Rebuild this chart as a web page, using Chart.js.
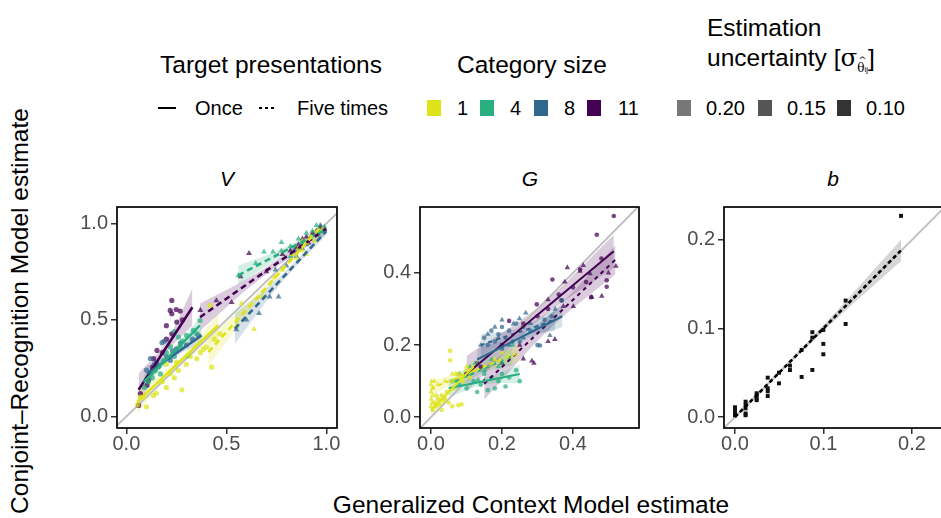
<!DOCTYPE html>
<html>
<head>
<meta charset="utf-8">
<script src="https://cdn.jsdelivr.net/npm/chart.js@4.4.1/dist/chart.umd.min.js"></script>
<style>
  body { margin: 0; width: 941px; height: 518px; overflow: hidden; background: #fff; position: relative;
         font-family: "Liberation Sans", Arial, Helvetica, sans-serif; color: #000; }
  .t { position: absolute; white-space: nowrap; line-height: 1; }
  .ttl { font-size: 24.5px; }
  .lab { font-size: 20px; }
  .key { position: absolute; width: 14px; height: 16px; }
  canvas { position: absolute; }
  .strip { position: absolute; font-size: 21px; font-style: italic; transform: translate(-50%, -50%); line-height: 1; }
</style>
</head>
<body>
<!-- legend -->
<div class="t ttl" style="left:160px;top:53px">Target presentations</div>
<div class="t ttl" style="left:457px;top:53px">Category size</div>
<div class="t ttl" style="left:707px;top:16px">Estimation</div>
<div class="t ttl" style="left:707px;top:46px">uncertainty [<span style="font-family:'DejaVu Serif',serif">σ</span><span style="position:relative;top:6px;font-size:12px;font-family:'DejaVu Serif',serif">θ<span style="position:absolute;left:1px;top:-6px;font-size:10px">^</span><span style="font-size:8px;font-family:'Liberation Sans'">ij</span></span>]</div>

<div style="position:absolute;left:158px;top:107px;width:18px;height:2px;background:#000"></div>
<div class="t lab" style="left:195px;top:98px">Once</div>
<div style="position:absolute;left:259px;top:107px;width:18px;height:2px;background:repeating-linear-gradient(to right,#000 0 3px,transparent 3px 6px)"></div>
<div class="t lab" style="left:297px;top:98px">Five times</div>

<div class="key" style="left:427px;top:100px;background:#dde318"></div>
<div class="t lab" style="left:457px;top:98px">1</div>
<div class="key" style="left:480px;top:100px;background:#29af7f"></div>
<div class="t lab" style="left:510px;top:98px">4</div>
<div class="key" style="left:534px;top:100px;background:#31688e"></div>
<div class="t lab" style="left:564px;top:98px">8</div>
<div class="key" style="left:587px;top:100px;background:#440154"></div>
<div class="t lab" style="left:618px;top:98px">11</div>

<div class="key" style="left:677px;top:100px;background:#777"></div>
<div class="t lab" style="left:706px;top:98px">0.20</div>
<div class="key" style="left:758px;top:100px;background:#555"></div>
<div class="t lab" style="left:787px;top:98px">0.15</div>
<div class="key" style="left:837px;top:100px;background:#333"></div>
<div class="t lab" style="left:866px;top:98px">0.10</div>

<div class="strip" style="left:227px;top:178px">V</div>
<div class="strip" style="left:530px;top:178px">G</div>
<div class="strip" style="left:833px;top:178px">b</div>

<canvas id="cV" width="300" height="268" style="left:40px;top:200px"></canvas>
<canvas id="cG" width="302" height="268" style="left:340px;top:200px"></canvas>
<canvas id="cB" width="305" height="268" style="left:640px;top:200px"></canvas>

<div class="t ttl" style="left:20px;top:311px;transform:translate(-50%,-50%) rotate(-90deg)">Conjoint–Recognition Model estimate</div>
<div class="t ttl" style="left:531px;top:505px;transform:translate(-50%,-50%)">Generalized Context Model estimate</div>

<script>
// category sizes 1, 4, 8, 11
const catColors = ["#dde318", "#29af7f", "#31688e", "#440154"];

// ---- V panel ----
const vTicks = [0, 0.5, 1];
const vOnce1 = [[0.055,0.06],[0.07,0.10],[0.086,0.10],[0.10,0.05],[0.136,0.109],[0.15,0.12],[0.18,0.18],[0.20,0.15],[0.219,0.221],[0.24,0.20],[0.26,0.238],[0.277,0.138],[0.30,0.27],[0.32,0.31],[0.352,0.299],[0.37,0.33],[0.385,0.347],[0.401,0.359],[0.418,0.575],[0.426,0.255],[0.44,0.40],[0.468,0.428],[0.20,0.27],[0.25,0.28]];
const vOnce4 = [[0.09,0.15],[0.11,0.18],[0.13,0.20],[0.144,0.238],[0.16,0.26],[0.186,0.29],[0.20,0.33],[0.22,0.36],[0.24,0.31],[0.26,0.411],[0.28,0.39],[0.30,0.42],[0.31,0.316],[0.335,0.446],[0.35,0.43],[0.368,0.497],[0.24,0.44],[0.17,0.22],[0.27,0.36]];
const vOnce8 = [[0.10,0.24],[0.12,0.30],[0.15,0.28],[0.178,0.382],[0.19,0.39],[0.20,0.31],[0.23,0.34],[0.25,0.35],[0.27,0.38],[0.30,0.37],[0.33,0.40],[0.36,0.42],[0.14,0.27],[0.22,0.29]];
const vOnce11 = [[0.061,0.057],[0.07,0.118],[0.103,0.161],[0.111,0.187],[0.131,0.255],[0.136,0.299],[0.153,0.342],[0.18,0.33],[0.20,0.40],[0.219,0.549],[0.227,0.601],[0.227,0.532],[0.249,0.554],[0.252,0.489],[0.269,0.546],[0.227,0.428],[0.16,0.26],[0.20,0.47],[0.28,0.50]];
const vFive1 = [[0.55,0.47],[0.575,0.585],[0.638,0.452],[0.68,0.62],[0.74,0.72],[0.78,0.76],[0.83,0.84],[0.86,0.87],[0.88,0.86],[0.90,0.90],[0.92,0.93],[0.94,0.91],[0.96,0.95],[0.98,0.97],[0.88,0.91],[0.85,0.82],[0.90,0.84]];
const vFive4 = [[0.56,0.73],[0.647,0.793],[0.688,0.853],[0.733,0.853],[0.775,0.902],[0.775,0.858],[0.82,0.88],[0.86,0.92],[0.90,0.95],[0.93,0.96],[0.96,0.97],[0.99,0.98],[0.88,0.90],[0.95,0.99],[0.82,0.83]];
const vFive8 = [[0.55,0.45],[0.60,0.50],[0.663,0.534],[0.716,0.62],[0.761,0.62],[0.745,0.76],[0.80,0.78],[0.85,0.83],[0.88,0.87],[0.92,0.92],[0.95,0.94],[0.98,0.96],[0.90,0.89],[0.97,0.99],[0.84,0.86]];
const vFive11 = [[0.37,0.55],[0.45,0.60],[0.526,0.591],[0.571,0.725],[0.613,0.845],[0.70,0.75],[0.78,0.84],[0.82,0.86],[0.86,0.89],[0.88,0.92],[0.90,0.93],[0.93,0.95],[0.95,0.96],[0.97,0.98],[0.99,0.97],[0.91,0.90],[0.85,0.87]];
// fitted lines: x0, y0, x1, y1, band half-width at start, middle, end
const vFitOnce = [[0.053,0.074,0.459,0.472,0.06,0.02,0.06],[0.086,0.178,0.368,0.472,0.04,0.015,0.04],[0.103,0.221,0.376,0.42,0.04,0.015,0.04],[0.061,0.138,0.330,0.566,0.085,0.03,0.095]];
const vFiveFit = [[0.41,0.333,0.965,0.975,0.07,0.02,0.02],[0.559,0.731,1.0,0.97,0.05,0.02,0.02],[0.542,0.454,1.0,0.96,0.08,0.02,0.02],[0.368,0.514,0.998,0.972,0.07,0.02,0.03]];

// ---- G panel ----
const gTicks = [0, 0.2, 0.4];
const gOnce1 = [[0.005,0.02],[0.01,0.04],[0.015,0.03],[0.02,0.05],[0.025,0.035],[0.03,0.06],[0.035,0.045],[0.04,0.05],[0.045,0.07],[0.05,0.04],[0.054,0.184],[0.054,0.158],[0.06,0.10],[0.065,0.08],[0.077,0.033],[0.086,0.036],[0.08,0.12],[0.09,0.10],[0.10,0.13],[0.12,0.14],[0.03,0.02],[0.06,0.03],[0.015,0.06],[0.07,0.12],[0.11,0.11]];
const gOnce4 = [[0.06,0.10],[0.08,0.09],[0.10,0.08],[0.12,0.10],[0.14,0.09],[0.16,0.075],[0.17,0.11],[0.19,0.10],[0.20,0.12],[0.22,0.11],[0.24,0.13],[0.18,0.08],[0.15,0.12],[0.13,0.07],[0.21,0.085],[0.11,0.12],[0.25,0.10]];
const gOnce8 = [[0.15,0.22],[0.16,0.20],[0.17,0.24],[0.18,0.21],[0.19,0.23],[0.20,0.25],[0.21,0.22],[0.22,0.24],[0.23,0.21],[0.24,0.26],[0.26,0.25],[0.28,0.24],[0.30,0.20],[0.307,0.199],[0.32,0.27],[0.34,0.28],[0.368,0.324],[0.20,0.19],[0.25,0.21],[0.13,0.15]];
const gOnce11 = [[0.10,0.12],[0.14,0.14],[0.20,0.20],[0.22,0.267],[0.298,0.313],[0.342,0.382],[0.368,0.324],[0.437,0.375],[0.451,0.333],[0.467,0.506],[0.495,0.38],[0.495,0.362],[0.515,0.558],[0.33,0.30],[0.30,0.28],[0.40,0.36],[0.26,0.26],[0.36,0.34],[0.42,0.41],[0.48,0.44]];
const gFive1 = [[0,0.03],[0,0.05],[0,0.07],[0,0.09],[0.002,0.10],[0.004,0.06],[0.003,0.04],[0.005,0.08],[0.01,0.10],[0.02,0.09],[0.04,0.10],[0.06,0.12],[0.10,0.14],[0.13,0.15],[0.15,0.14],[0.18,0.16],[0.20,0.18],[0.22,0.17],[0.08,0.11],[0.12,0.13]];
const gFive4 = [[0.08,0.12],[0.096,0.117],[0.11,0.14],[0.124,0.149],[0.133,0.103],[0.15,0.13],[0.17,0.16],[0.19,0.14],[0.23,0.20],[0.20,0.15],[0.07,0.10]];
const gFive8 = [[0.16,0.23],[0.18,0.25],[0.20,0.27],[0.232,0.259],[0.249,0.273],[0.267,0.289],[0.28,0.26],[0.30,0.25],[0.335,0.227],[0.35,0.30],[0.26,0.22],[0.22,0.20],[0.14,0.20],[0.19,0.22]];
const gFive11 = [[0.15,0.10],[0.20,0.15],[0.26,0.162],[0.284,0.156],[0.29,0.15],[0.33,0.21],[0.349,0.216],[0.373,0.307],[0.384,0.415],[0.401,0.307],[0.42,0.405],[0.429,0.421],[0.448,0.398],[0.453,0.333],[0.481,0.336],[0.521,0.419],[0.33,0.326],[0.377,0.375],[0.25,0.20],[0.50,0.40]];
const gFitOnce = [[0.0,0.02,0.12,0.14,0.02,0.01,0.02],[0.05,0.08,0.25,0.12,0.025,0.01,0.025],[0.13,0.16,0.37,0.28,0.03,0.012,0.03],[0.10,0.12,0.515,0.46,0.05,0.02,0.045]];
const gFiveFit = [[0.0,0.08,0.25,0.18,0.02,0.01,0.025],[0.07,0.10,0.23,0.17,0.025,0.01,0.025],[0.14,0.20,0.35,0.27,0.03,0.012,0.03],[0.15,0.093,0.52,0.437,0.045,0.02,0.04]];

// ---- b panel ----
const bTicks = [0, 0.1, 0.2];
const bPoints = [[0,0.002],[0,0.004],[0,0.006],[0,0.008],[0,0.011],[0.012,0.002],[0.012,0.004],[0.012,0.0098],[0.012,0.0135],[0.012,0.0173],[0.0245,0.019],[0.0245,0.021],[0.0245,0.0245],[0.0245,0.0268],[0.037,0.0237],[0.037,0.029],[0.037,0.0324],[0.037,0.0444],[0.0497,0.038],[0.0497,0.050],[0.0621,0.053],[0.0621,0.058],[0.0753,0.0452],[0.0753,0.0757],[0.0874,0.0531],[0.0874,0.0896],[0.0874,0.0957],[0.0998,0.0708],[0.0998,0.0825],[0.0998,0.0983],[0.125,0.105],[0.125,0.1314],[0.1876,0.227]];
const bFit = [[0.0,0.0,0.1876,0.188,0.002,0.003,0.012]];

function rgba(hex, a) {
  const n = parseInt(hex.slice(1), 16);
  return `rgba(${n >> 16},${(n >> 8) & 255},${n & 255},${a})`;
}
const pts = arr => arr.map(p => ({ x: p[0], y: p[1] }));

function scatterSet(arr, col, shape, r) {
  return { type: "scatter", data: pts(arr), pointStyle: shape, pointRadius: r,
           backgroundColor: rgba(col, 0.72), borderWidth: 0, order: 2 };
}

function fitSets(fits, cols, dash, lw) {
  const sets = [];
  fits.forEach((f, i) => {
    const [x0, y0, x1, y1, h0, hm, h1] = f;
    const xm = (x0 + x1) / 2, ym = (y0 + y1) / 2;
    const col = cols[i];
    sets.push({ type: "line", data: [{x:x0,y:y0+h0},{x:xm,y:ym+hm},{x:x1,y:y1+h1}], borderWidth: 0,
                pointRadius: 0, tension: 0.4, fill: false, order: 5 });
    sets.push({ type: "line", data: [{x:x0,y:y0-h0},{x:xm,y:ym-hm},{x:x1,y:y1-h1}], borderWidth: 0,
                pointRadius: 0, tension: 0.4, fill: "-1", backgroundColor: rgba(col, 0.2), order: 5 });
    sets.push({ type: "line", data: [{x:x0,y:y0},{x:x1,y:y1}], borderColor: col, borderWidth: lw,
                borderDash: dash, pointRadius: 0, fill: false, order: 1 });
  });
  return sets;
}

const diag = { type: "line", data: [{x:-1,y:-1},{x:2,y:2}], borderColor: "#bdbdbd", borderWidth: 1.8,
               pointRadius: 0, fill: false, order: 3 };

const boxPlugin = {
  id: "box",
  afterDraw(chart) {
    const a = chart.chartArea, c = chart.ctx;
    c.save(); c.strokeStyle = "#000"; c.lineWidth = 1.7;
    c.strokeRect(a.left, a.top, a.right - a.left, a.bottom - a.top);
    c.restore();
  }
};

function noPad(s) { s.paddingTop = 0; s.paddingBottom = 0; s.paddingLeft = 0; s.paddingRight = 0; }

function axis(min, max, ticks, fit, pad) {
  return {
    type: "linear", min: min, max: max,
    afterBuildTicks: s => { s.ticks = ticks.map(v => ({ value: v })); },
    afterFit: s => { fit(s); noPad(s); },
    grid: { drawOnChartArea: false, drawTicks: true, tickLength: 6, color: "#333", lineWidth: 1.5 },
    border: { display: false },
    ticks: { padding: pad, color: "#4d4d4d", font: { family: "Liberation Sans", size: 20 },
             callback: v => v.toFixed(1), maxRotation: 0 }
  };
}

function makePanel(id, datasets, xr, yr, ticks, yWidth, padRight) {
  new Chart(document.getElementById(id), {
    data: { datasets: datasets },
    options: {
      responsive: false, animation: false, devicePixelRatio: 1,
      layout: { padding: { top: 7, right: padRight, left: 0, bottom: 0 }, autoPadding: false },
      plugins: { legend: { display: false }, tooltip: { enabled: false } },
      scales: {
        x: axis(xr[0], xr[1], ticks, s => { s.height = 40; }, -2),
        y: axis(yr[0], yr[1], ticks, s => { s.width = yWidth; }, 3)
      }
    },
    plugins: [boxPlugin]
  });
}

const vSets = [diag,
  scatterSet(vOnce1, catColors[0], "circle", 2.6), scatterSet(vOnce4, catColors[1], "circle", 2.6),
  scatterSet(vOnce8, catColors[2], "circle", 2.6), scatterSet(vOnce11, catColors[3], "circle", 2.6),
  scatterSet(vFive1, catColors[0], "triangle", 3.4), scatterSet(vFive4, catColors[1], "triangle", 3.4),
  scatterSet(vFive8, catColors[2], "triangle", 3.4), scatterSet(vFive11, catColors[3], "triangle", 3.4),
  ...fitSets(vFitOnce, catColors, [], 2.6), ...fitSets(vFiveFit, catColors, [6, 4], 2.6)];
makePanel("cV", vSets, [-0.047, 1.053], [-0.06, 1.085], vTicks, 77, 3);

const gSets = [diag,
  scatterSet(gOnce1, catColors[0], "circle", 2.3), scatterSet(gOnce4, catColors[1], "circle", 2.3),
  scatterSet(gOnce8, catColors[2], "circle", 2.3), scatterSet(gOnce11, catColors[3], "circle", 2.3),
  scatterSet(gFive1, catColors[0], "triangle", 3.2), scatterSet(gFive4, catColors[1], "triangle", 3.2),
  scatterSet(gFive8, catColors[2], "triangle", 3.2), scatterSet(gFive11, catColors[3], "triangle", 3.2),
  ...fitSets(gFitOnce, catColors, [], 2), ...fitSets(gFiveFit, catColors, [4, 4], 2)];
makePanel("cG", gSets, [-0.031, 0.586], [-0.03, 0.583], gTicks, 80, 3);

const bSets = [diag,
  { type: "scatter", data: pts(bPoints), pointStyle: "rect", pointRadius: 2.8, backgroundColor: "#111", borderWidth: 0, order: 2 },
  ...fitSets(bFit, ["#333333"], [4, 3], 2.6)];
bSets[bSets.length - 1].borderColor = "#000";
makePanel("cB", bSets, [-0.0124, 0.235], [-0.0124, 0.237], bTicks, 84, 2);
</script>
</body>
</html>
